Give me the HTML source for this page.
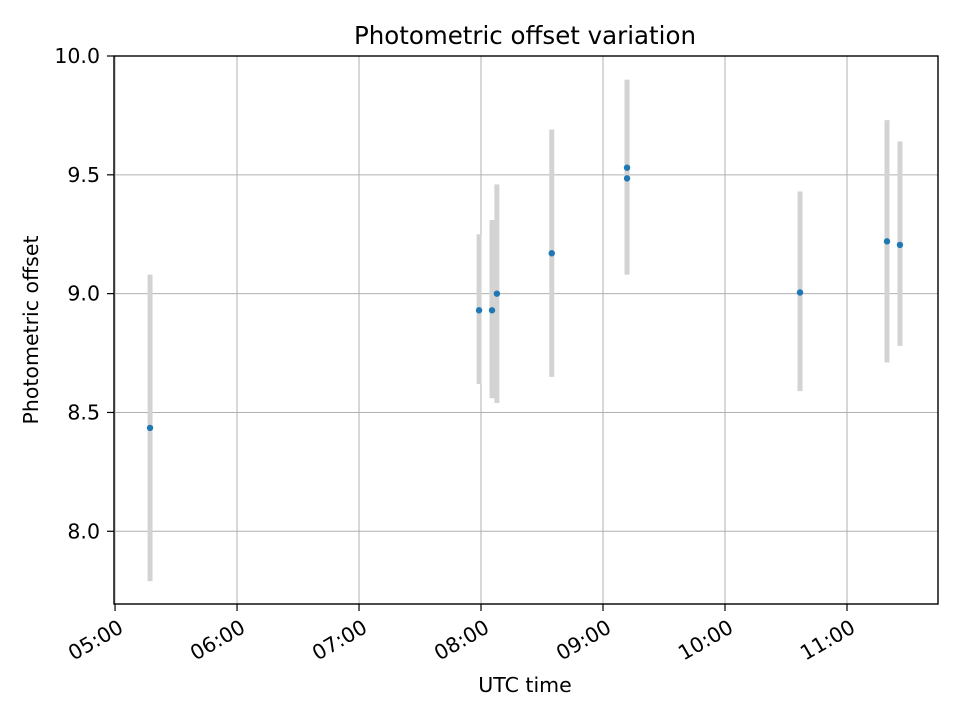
<!DOCTYPE html>
<html><head><meta charset="utf-8"><style>
body{margin:0;background:#fff;}
svg text{font-family:"DejaVu Sans","Liberation Sans",sans-serif;fill:#000;}
</style></head><body>
<svg id="chart" width="960" height="720" xmlns="http://www.w3.org/2000/svg">
<rect width="960" height="720" fill="#fff"/>
<g id="grid"></g><g id="bars"></g><g id="pts"></g><g id="axes"></g>
<text x="525" y="44" text-anchor="middle" font-size="24.5px">Photometric offset variation</text>
<text x="525" y="692" text-anchor="middle" font-size="20.5px">UTC time</text>
<text transform="translate(38,330) rotate(-90)" text-anchor="middle" font-size="20.5px">Photometric offset</text>
</svg>
<script>
const times=[5.287,7.984,8.09,8.13,8.58,9.197,9.197,10.615,11.328,11.434];
const values=[8.435,8.93,8.93,9.0,9.17,9.53,9.485,9.005,9.22,9.205];
const errLow=[7.79,8.62,8.56,8.54,8.65,9.08,9.08,8.59,8.71,8.78];
const errHigh=[9.08,9.25,9.31,9.46,9.69,9.90,9.90,9.43,9.73,9.64];
const xTicks=[5,6,7,8,9,10,11];
const xTickLabels=["05:00","06:00","07:00","08:00","09:00","10:00","11:00"];
const yTicks=[8.0,8.5,9.0,9.5,10.0];
const yTickLabels=["8.0","8.5","9.0","9.5","10.0"];
const L=114,R=938,T=56,B=604;
const xMin=4.9915,xMax=11.746,yMin=7.694,yMax=10.0;
const X=v=>L+(v-xMin)/(xMax-xMin)*(R-L);
const Y=v=>B-(v-yMin)/(yMax-yMin)*(B-T);
const NS="http://www.w3.org/2000/svg";
function mk(p,tag,a){const e=document.createElementNS(NS,tag);for(const k in a)e.setAttribute(k,a[k]);p.appendChild(e);return e;}
const grid=document.getElementById('grid'),axes=document.getElementById('axes'),bars=document.getElementById('bars'),pts=document.getElementById('pts');
xTicks.forEach((t,i)=>{const x=X(t);
 const g=mk(grid,'line',{x1:x,x2:x,y1:T,y2:B,stroke:'#b0b0b0','stroke-width':1});
 
 
 const tk=mk(axes,'line',{x1:x,x2:x,y1:B,y2:B+7,stroke:'#000','stroke-width':1.2});
 
 
 const tx=mk(axes,'text',{transform:`translate(${x+2},${B+14}) rotate(-30)`,'text-anchor':'end','font-size':'20.5px',dy:'0.75em'});
 tx.textContent=xTickLabels[i];
 
 
});
yTicks.forEach((t,i)=>{const y=Y(t);
 const g=mk(grid,'line',{x1:L,x2:R,y1:y,y2:y,stroke:'#b0b0b0','stroke-width':1});
 
 
 const tk=mk(axes,'line',{x1:L-7,x2:L,y1:y,y2:y,stroke:'#000','stroke-width':1.2});
 
 
 const tx=mk(axes,'text',{x:L-14,y:y+7,'text-anchor':'end','font-size':'20.5px'});
 tx.textContent=yTickLabels[i];
 
 
});
const fr=mk(axes,'rect',{x:L,y:T,width:R-L,height:B-T,fill:'none',stroke:'#000','stroke-width':1.4});


times.forEach((t,i)=>{const x=X(t);
 const b=mk(bars,'line',{x1:x,x2:x,y1:Y(errLow[i]),y2:Y(errHigh[i]),stroke:'#d3d3d3','stroke-width':5});
 
 
 const c=mk(pts,'circle',{cx:x,cy:Y(values[i]),r:3.2,fill:'#1f77b4'});
 
 
});
</script>
</body></html>
